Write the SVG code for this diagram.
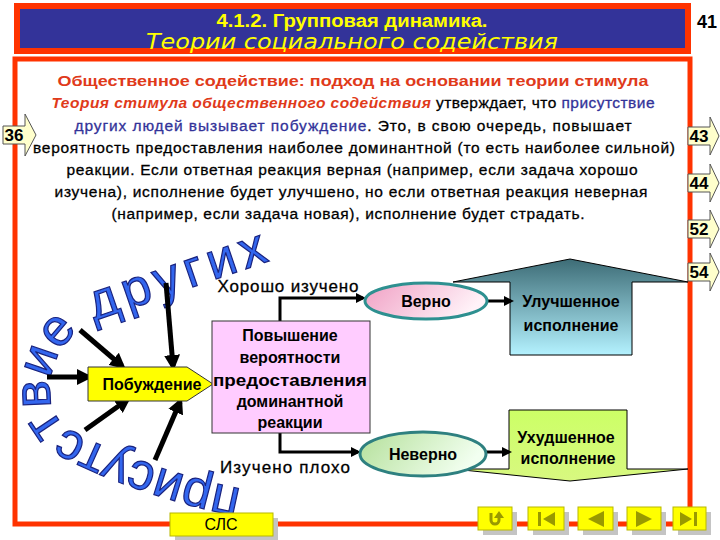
<svg xmlns="http://www.w3.org/2000/svg" width="720" height="540" viewBox="0 0 720 540">
<style>
.t{font-family:"Liberation Sans",Arial,sans-serif}
.bt{font-family:"Liberation Sans",Arial,sans-serif;font-size:15.5px;fill:#000;stroke:#000;stroke-width:0.3}
.hd{font-weight:bold;fill:#e03a1a;stroke:none}
.ri{font-weight:bold;font-style:italic;fill:#e03a1a;stroke:none}
.bl{fill:#333399;stroke:#333399}
.nd{font-family:"Liberation Sans",Arial,sans-serif;font-size:16px;font-weight:bold;fill:#000;text-anchor:middle}
.lb{font-family:"Liberation Sans",Arial,sans-serif;font-size:17px;fill:#000;stroke:#000;stroke-width:0.3;text-anchor:middle}
.cv{font-family:"Liberation Sans",Arial,sans-serif;font-size:52px;fill:#3366ee;stroke:#1a237e;stroke-width:1.2}
.bdg{fill:#ffffcc;stroke:#555;stroke-width:1}
.bdt{font-family:"Liberation Sans",Arial,sans-serif;font-size:17px;font-weight:bold;fill:#000;text-anchor:middle}
.thick{stroke:#000;stroke-width:5;fill:none;marker-end:url(#ah)}
.thin{stroke:#000;stroke-width:3;fill:none;marker-end:url(#as)}
.btn{fill:#ffff00;stroke:#b8b800;stroke-width:1}
.sh{fill:#c4c4c4}
.ic{fill:#999900}
</style>
<defs>
<marker id="ah" viewBox="0 0 16 16" markerWidth="16" markerHeight="16" refX="11" refY="8" orient="auto" markerUnits="userSpaceOnUse"><path d="M0,0 L16,8 L0,16 z" fill="#000"/></marker>
<marker id="as" viewBox="0 0 10 10" markerWidth="11" markerHeight="10" refX="7" refY="5" orient="auto" markerUnits="userSpaceOnUse"><path d="M0,0 L10,5 L0,10 z" fill="#000"/></marker>
<linearGradient id="gUp" x1="0" y1="259" x2="0" y2="355" gradientUnits="userSpaceOnUse"><stop offset="0" stop-color="#3d6c76"/><stop offset="1" stop-color="#b4f2ff"/></linearGradient>
<linearGradient id="gDn" x1="0" y1="410" x2="0" y2="481" gradientUnits="userSpaceOnUse"><stop offset="0" stop-color="#ccff66"/><stop offset="1" stop-color="#d8f880"/></linearGradient>
<linearGradient id="gPink" x1="0" y1="0" x2="1" y2="0.3"><stop offset="0" stop-color="#f0a0c4"/><stop offset="1" stop-color="#fff2f8"/></linearGradient>
<linearGradient id="gGreen" x1="0" y1="0" x2="1" y2="0.3"><stop offset="0" stop-color="#b4e09a"/><stop offset="1" stop-color="#f2fff0"/></linearGradient>
<path id="arcA" d="M 242 489 C 175 476, 112 452, 74 432 C 56 423, 50 408, 50 390 C 50 366, 62 340, 86 325"/>
<path id="arcB" d="M 94 321 L 278 258"/>
</defs>
<rect width="720" height="540" fill="#fff"/>

<g id="header">
<rect x="17" y="6" width="671" height="45" fill="#333399" stroke="#ff3300" stroke-width="6"/>
<text x="352" y="27" class="t" font-size="18" font-weight="bold" fill="#ffff00" text-anchor="middle" textLength="271" lengthAdjust="spacingAndGlyphs">4.1.2. Групповая динамика.</text>
<text x="352" y="49" font-family="DejaVu Sans, sans-serif" font-size="22" font-style="italic" fill="#ffff00" text-anchor="middle" textLength="412" lengthAdjust="spacingAndGlyphs">Теории социального содействия</text>
<text x="707" y="28" class="t" font-size="19" font-weight="bold" fill="#000" text-anchor="middle" textLength="20" lengthAdjust="spacingAndGlyphs">41</text>
</g>

<rect x="15" y="59" width="675" height="465" fill="#fff" stroke="#ff3300" stroke-width="5"/>

<g id="bodytext" text-anchor="middle">
<text x="353" y="86" class="bt hd" font-size="16.5" textLength="591" lengthAdjust="spacingAndGlyphs">Общественное содействие: подход на основании теории стимула</text>
<text x="353" y="108" class="bt" textLength="603" lengthAdjust="spacing"><tspan class="ri">Теория стимула общественного содействия</tspan> утверждает, что <tspan class="bl">присутствие</tspan></text>
<text x="353" y="131" class="bt" textLength="557" lengthAdjust="spacing"><tspan class="bl">других людей вызывает побуждение</tspan>. Это, в свою очередь, повышает</text>
<text x="354" y="153" class="bt" textLength="642" lengthAdjust="spacing">вероятность предоставления наиболее доминантной (то есть наиболее сильной)</text>
<text x="352" y="175" class="bt" textLength="571" lengthAdjust="spacing">реакции. Если ответная реакция верная (например, если задача хорошо</text>
<text x="351" y="197" class="bt" textLength="593" lengthAdjust="spacing">изучена), исполнение будет улучшено, но если ответная реакция неверная</text>
<text x="348" y="219" class="bt" textLength="473" lengthAdjust="spacing">(например, если задача новая), исполнение будет страдать.</text>
</g>

<g id="curved">
<text class="cv"><textPath href="#arcA" textLength="298" lengthAdjust="spacing">присутствие</textPath></text>
<text class="cv"><textPath href="#arcB" textLength="186" lengthAdjust="spacing">других</textPath></text>
</g>

<g id="b36"><polygon class="bdg" points="3,126 25,126 25,114 36,135 25,156 25,144 3,144"/><text x="14" y="141" class="bdt">36</text></g>
<g id="b43"><polygon class="bdg" points="688,127 710,127 710,117 719,136 710,155 710,145 688,145"/><text x="699" y="142" class="bdt">43</text></g>
<g id="b44"><polygon class="bdg" points="688,174 710,174 710,164 719,183 710,202 710,192 688,192"/><text x="699" y="189" class="bdt">44</text></g>
<g id="b52"><polygon class="bdg" points="688,220 710,220 710,210 719,229 710,248 710,238 688,238"/><text x="699" y="235" class="bdt">52</text></g>
<g id="b54"><polygon class="bdg" points="688,263 710,263 710,253 719,272 710,291 710,281 688,281"/><text x="699" y="278" class="bdt">54</text></g>

<g id="better">
<polygon points="453,282 570,259 688,282 632,282 632,355 510,355 510,282" fill="url(#gUp)" stroke="#000" stroke-width="1"/>
<text x="571" y="307" class="nd">Улучшенное</text>
<text x="571" y="331" class="nd">исполнение</text>
</g>
<g id="worse">
<polygon points="509,410 627,410 627,469 688,469 570,481 453,469 509,469" fill="url(#gDn)" stroke="#000" stroke-width="1"/>
<text x="566" y="443" class="nd">Ухудшенное</text>
<text x="568" y="464" class="nd">исполнение</text>
</g>

<g id="connectors">
<path class="thick" d="M47 377 L88 377"/>
<path class="thick" d="M80 330 L122 366"/>
<path class="thick" d="M166 283 L173 366"/>
<path class="thick" d="M85 430 L127 400"/>
<path class="thick" d="M155 460 L180 402"/>
<path class="thin" d="M280 321 V298 H363"/>
<path class="thin" d="M280 433 V452 H358"/>
<path class="thin" d="M487 301 H511"/>
<path class="thin" d="M486 452 H509"/>
</g>

<g id="arousal">
<polygon points="88,367 187,367 213,384 187,401 88,401" fill="#ffff00" stroke="#333" stroke-width="1"/>
<text x="152" y="390" class="nd" font-size="15">Побуждение</text>
</g>
<g id="dominant">
<rect x="212" y="321" width="158" height="112" fill="#ffccff" stroke="#333" stroke-width="1"/>
<text x="290" y="341" class="nd">Повышение</text>
<text x="290" y="363" class="nd">вероятности</text>
<text x="290" y="386" class="nd" textLength="154" lengthAdjust="spacingAndGlyphs">предоставления</text>
<text x="290" y="407" class="nd">доминантной</text>
<text x="290" y="428" class="nd">реакции</text>
</g>
<g id="correct">
<ellipse cx="426" cy="301" rx="61" ry="18" fill="url(#gPink)" stroke="#2e9090" stroke-width="3"/>
<text x="426" y="307" class="nd">Верно</text>
</g>
<g id="wrong">
<ellipse cx="423" cy="454" rx="63" ry="22" fill="url(#gGreen)" stroke="#2e8080" stroke-width="3"/>
<text x="423" y="460" class="nd">Неверно</text>
</g>
<g id="labels">
<text x="288" y="292" class="lb" textLength="141" lengthAdjust="spacing">Хорошо изучено</text>
<text x="285" y="473" class="lb" textLength="130" lengthAdjust="spacing">Изучено плохо</text>
</g>

<g id="nav">
<rect class="sh" x="175" y="518" width="103" height="22"/>
<rect class="btn" x="170" y="513" width="103" height="23"/>
<text x="221" y="530" class="t" font-size="16" fill="#000" text-anchor="middle">СЛС</text>
<rect class="sh" x="483" y="512" width="34" height="23"/><rect class="btn" x="478" y="507" width="34" height="23"/>
<path d="M491 513 V520 a4 4 0 0 0 8 0 V517" stroke="#999900" stroke-width="3" fill="none"/><polygon class="ic" points="494,518 499,511 504,518"/>
<rect class="sh" x="533" y="512" width="36" height="23"/><rect class="btn" x="528" y="507" width="36" height="23"/>
<rect class="ic" x="538" y="512" width="3" height="14"/><polygon class="ic" points="555,512 543,519 555,526"/>
<rect class="sh" x="583" y="512" width="35" height="23"/><rect class="btn" x="578" y="507" width="35" height="23"/>
<polygon class="ic" points="604,511 588,519 604,527"/>
<rect class="sh" x="632" y="512" width="34" height="23"/><rect class="btn" x="627" y="507" width="34" height="23"/>
<polygon class="ic" points="636,511 652,519 636,527"/>
<rect class="sh" x="678" y="512" width="33" height="23"/><rect class="btn" x="673" y="507" width="33" height="23"/>
<polygon class="ic" points="680,512 692,519 680,526"/><rect class="ic" x="694" y="512" width="3" height="14"/>
</g>
</svg>
